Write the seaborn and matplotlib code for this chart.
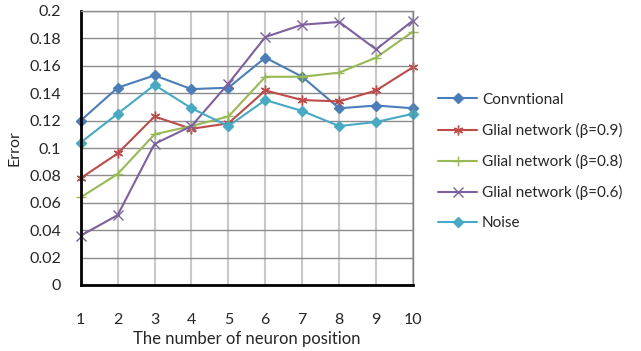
import matplotlib
matplotlib.use("Agg")
import matplotlib.pyplot as plt
import seaborn as sns
import pandas as pd

positions = [1, 2, 3, 4, 5, 6, 7, 8, 9, 10]
conventional = [0.120, 0.144, 0.153, 0.143, 0.144, 0.166, 0.152, 0.129, 0.131, 0.129]
glial_09 = [0.078, 0.096, 0.123, 0.114, 0.118, 0.142, 0.135, 0.134, 0.142, 0.159]
glial_08 = [0.064, 0.081, 0.110, 0.116, 0.123, 0.152, 0.152, 0.155, 0.166, 0.185]
glial_06 = [0.036, 0.051, 0.103, 0.116, 0.147, 0.181, 0.190, 0.192, 0.172, 0.193]
noise = [0.104, 0.125, 0.146, 0.129, 0.116, 0.135, 0.127, 0.116, 0.119, 0.125]

series_names = ["Convntional", "Glial network (\u03b2=0.9)", "Glial network (\u03b2=0.8)",
                "Glial network (\u03b2=0.6)", "Noise"]
series_values = [conventional, glial_09, glial_08, glial_06, noise]
y_ticks = [0, 0.02, 0.04, 0.06, 0.08, 0.1, 0.12, 0.14, 0.16, 0.18, 0.2]
y_tick_labels = ["0", "0.02", "0.04", "0.06", "0.08", "0.1", "0.12", "0.14", "0.16", "0.18", "0.2"]

colors = ["#4A7EBB", "#BE4B48", "#98B954", "#7D60A0", "#46AAC5"]
marker_styles = ["D", (6, 2, 0), "+", "x", "D"]
marker_sizes = [5.0, 7, 7, 7, 5.0]

sns.set_theme(style="white")
plt.rcParams["font.family"] = ["Lato", "DejaVu Sans"]

fig = plt.figure(figsize=(6.41, 3.51), dpi=100)
ax = fig.add_axes([80.7 / 641, (351 - 285) / 351, (413 - 80.7) / 641, (285 - 11) / 351])

for name, vals, c, m, ms in zip(series_names, series_values, colors, marker_styles, marker_sizes):
    df = pd.DataFrame({"position": positions, "error": vals})
    sns.lineplot(data=df, x="position", y="error", color=c, marker=m, markersize=ms,
                 markerfacecolor=c, markeredgecolor=c, markeredgewidth=1.0,
                 linewidth=1.5, ax=ax, label=name, legend=False, clip_on=False)

ax.set_xlim(1, 10)
ax.set_ylim(0, 0.2)
ax.set_xticks(positions)
ax.set_xticklabels([str(p) for p in positions], fontsize=11.5)
ax.set_yticks(y_ticks)
ax.set_yticklabels(y_tick_labels, fontsize=11.5)
ax.tick_params(axis="x", length=0, pad=20)
ax.tick_params(axis="y", length=0, pad=14)

ax.grid(True, axis="y", color="#8C8C8C", linewidth=1.0)
ax.grid(True, axis="x", color="#C8C8C8", linewidth=1.5)
ax.set_axisbelow(True)

ax.spines["left"].set_color("black")
ax.spines["left"].set_linewidth(2.0)
ax.spines["bottom"].set_color("black")
ax.spines["bottom"].set_linewidth(2.0)
ax.spines["top"].set_color("#8C8C8C")
ax.spines["top"].set_linewidth(1.0)
ax.spines["right"].set_color("#7F7F7F")
ax.spines["right"].set_linewidth(1.0)

ax.set_xlabel("The number of neuron position", fontsize=12, labelpad=3)
ax.set_ylabel("Error", fontsize=11.5, labelpad=6)

handles = [plt.Line2D([], [], color=c, marker=m, markersize=ms, linewidth=1.5,
                      markerfacecolor=c, markeredgecolor=c)
           for c, m, ms in zip(colors, marker_styles, marker_sizes)]
fig.legend(handles, series_names, loc="upper left", bbox_to_anchor=(424 / 641, 1 - 79 / 351),
           frameon=False, fontsize=11, handlelength=2.6, handletextpad=0.3,
           labelspacing=1.05)

fig.savefig("out.png", dpi=100)
